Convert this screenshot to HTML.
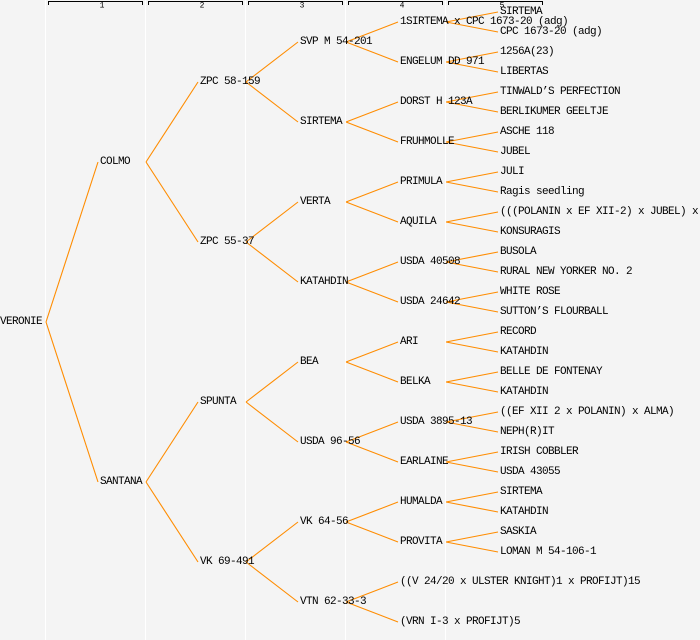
<!DOCTYPE html>
<html><head><meta charset="utf-8"><style>
html,body{margin:0;padding:0;background:#f4f4f4;}
svg{display:block;}
text{font-family:"Liberation Mono","DejaVu Sans Mono",monospace;font-size:11px;letter-spacing:-0.6px;fill:#000;dominant-baseline:central;}
.h{font-size:8px;letter-spacing:0;text-anchor:middle;}
</style></head><body>
<svg width="700" height="640" viewBox="0 0 700 640" xmlns="http://www.w3.org/2000/svg">
<rect width="700" height="640" fill="#f4f4f4"/>
<g stroke="#fff" stroke-width="1">
<line x1="45.5" y1="0" x2="45.5" y2="640"/><line x1="145.5" y1="0" x2="145.5" y2="640"/>
<line x1="245.5" y1="0" x2="245.5" y2="640"/><line x1="345.5" y1="0" x2="345.5" y2="640"/>
<line x1="445.5" y1="0" x2="445.5" y2="640"/>
</g>
<g stroke="#000" stroke-width="1" fill="none">
<path d="M48.5 5V1.5H142.5V5"/><path d="M148.5 5V1.5H242.5V5"/><path d="M248.5 5V1.5H342.5V5"/>
<path d="M348.5 5V1.5H442.5V5"/><path d="M448.5 5V1.5H542.5V5"/>
</g>
<text class="h" x="102" y="6">1</text><text class="h" x="202" y="6">2</text><text class="h" x="302" y="6">3</text><text class="h" x="402" y="6">4</text><text class="h" x="502" y="6">5</text>
<g stroke="#ff8c00" stroke-width="1.1" fill="none" id="L"></g>
<g id="T"></g>
<script>
var nodes=[
[0,322,"VERONIE"],
[1,162,"COLMO"],[1,482,"SANTANA"],
[2,82,"ZPC 58-159"],[2,242,"ZPC 55-37"],[2,402,"SPUNTA"],[2,562,"VK 69-491"],
[3,42,"SVP M 54-201"],[3,122,"SIRTEMA"],[3,202,"VERTA"],[3,282,"KATAHDIN"],[3,362,"BEA"],[3,442,"USDA 96-56"],[3,522,"VK 64-56"],[3,602,"VTN 62-33-3"],
[4,22,"1SIRTEMA x CPC 1673-20 (adg)"],[4,62,"ENGELUM DD 971"],[4,102,"DORST H 123A"],[4,142,"FRUHMOLLE"],[4,182,"PRIMULA"],[4,222,"AQUILA"],[4,262,"USDA 40508"],[4,302,"USDA 24642"],[4,342,"ARI"],[4,382,"BELKA"],[4,422,"USDA 3895-13"],[4,462,"EARLAINE"],[4,502,"HUMALDA"],[4,542,"PROVITA"],[4,582,"((V 24/20 x ULSTER KNIGHT)1 x PROFIJT)15"],[4,622,"(VRN I-3 x PROFIJT)5"]
];
var leaves=["SIRTEMA","CPC 1673-20 (adg)","1256A(23)","LIBERTAS","TINWALD\u2019S PERFECTION","BERLIKUMER GEELTJE","ASCHE 118","JUBEL","JULI","Ragis seedling","(((POLANIN x EF XII-2) x JUBEL) x","KONSURAGIS","BUSOLA","RURAL NEW YORKER NO. 2","WHITE ROSE","SUTTON\u2019S FLOURBALL","RECORD","KATAHDIN","BELLE DE FONTENAY","KATAHDIN","((EF XII 2 x POLANIN) x ALMA)","NEPH(R)IT","IRISH COBBLER","USDA 43055","SIRTEMA","KATAHDIN","SASKIA","LOMAN M 54-106-1"];
leaves.forEach(function(s,i){nodes.push([5,12+20*i,s]);});
var L=document.getElementById("L"),T=document.getElementById("T"),ns="http://www.w3.org/2000/svg";
var off={1:160,2:80,3:40,4:20,5:10};
nodes.forEach(function(n){
 var t=document.createElementNS(ns,"text");t.setAttribute("x",n[0]*100);t.setAttribute("y",n[1]);t.textContent=n[2];T.appendChild(t);
});
nodes.forEach(function(n){
 var c=n[0]+1;if(c>5)return;
 if(n[0]==3&&n[1]==602)return;
 nodes.forEach(function(m){
  if(m[0]==c&&Math.abs(m[1]-n[1])==off[c]){
   var l=document.createElementNS(ns,"line");
   l.setAttribute("x1",n[0]*100+46);l.setAttribute("y1",n[1]);l.setAttribute("x2",c*100-2);l.setAttribute("y2",m[1]);L.appendChild(l);
  }});
});
[582,622].forEach(function(y){var l=document.createElementNS(ns,"line");l.setAttribute("x1",346);l.setAttribute("y1",602);l.setAttribute("x2",398);l.setAttribute("y2",y);L.appendChild(l);});
</script>
</svg>
</body></html>
